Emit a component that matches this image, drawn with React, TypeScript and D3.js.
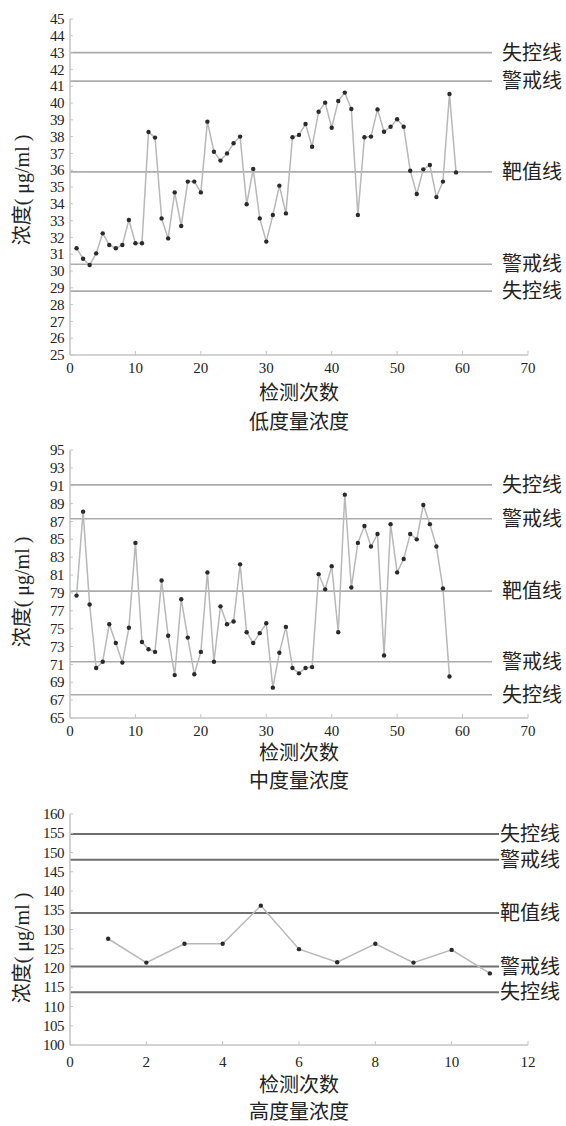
import * as React from "react";
import * as d3 from "d3";

// 低度量浓度
const lowValues = [
  31.35, 30.73, 30.36, 31.05, 32.24, 31.55, 31.35, 31.55, 33.04, 31.65,
  31.65, 38.27, 37.94, 33.13, 31.94, 34.68, 32.68, 35.32, 35.32, 34.68,
  38.89, 37.1, 36.57, 37.0, 37.6, 38.0, 33.97, 36.07, 33.13, 31.75,
  33.33, 35.08, 33.43, 37.96, 38.1, 38.75, 37.4, 39.48, 40.02, 38.53,
  40.12, 40.62, 39.64, 33.33, 37.96, 38.0, 39.62, 38.29, 38.59, 39.03,
  38.59, 35.97, 34.58, 36.05, 36.31, 34.4, 35.32, 40.54, 35.87,
];
const lowLimits = [43.0, 41.3, 35.9, 30.4, 28.8];

// 中度量浓度
const midValues = [
  78.7, 88.1, 77.7, 70.6, 71.3, 75.5, 73.4, 71.2, 75.1, 84.6,
  73.5, 72.7, 72.4, 80.4, 74.2, 69.8, 78.3, 74.0, 69.9, 72.4,
  81.3, 71.3, 77.5, 75.5, 75.8, 82.2, 74.6, 73.4, 74.5, 75.6,
  68.4, 72.3, 75.2, 70.6, 70.0, 70.6, 70.7, 81.1, 79.4, 82.0,
  74.6, 90.0, 79.6, 84.6, 86.5, 84.2, 85.6, 72.0, 86.7, 81.3,
  82.8, 85.6, 85.0, 88.85, 86.7, 84.2, 79.5, 69.65,
];
const midLimits = [91.1, 87.3, 79.2, 71.3, 67.6];

// 高度量浓度
const highValues = [127.6, 121.4, 126.3, 126.3, 136.2, 124.9, 121.5, 126.3, 121.4, 124.7, 118.6];
const highLimits = [154.8, 148.1, 134.3, 120.4, 113.7];

const limitLabels = ["失控线", "警戒线", "靶值线", "警戒线", "失控线"];
const xTitle = "检测次数";
const yTitle = "浓度( μg/ml )";
const panelTitles = ["低度量浓度", "中度量浓度", "高度量浓度"];

const NUM_FONT = "'Liberation Serif', 'Times New Roman', serif";
const CJK_FONT = "'Liberation Serif', 'Noto Sans CJK SC', serif";

interface PanelProps {
  values: number[];
  limits: number[];
  title: string;
  yDomain: [number, number];
  yStep: number;
  xMax: number;
  xStep: number;
  top: number;
  bottom: number;
  lineEnd: number;
  labelX: number;
  limitColor: string;
  limitWidth: number;
  tickLabelDy: number;
  xTitleDy: number;
  subTitleDy: number;
  yTitleY: number;
}

function Panel(p: PanelProps) {
  const left = 70,
    right = 528;
  const x = d3.scaleLinear().domain([0, p.xMax]).range([left, right]);
  const y = d3.scaleLinear().domain(p.yDomain).range([p.bottom, p.top]);
  const yTicks = d3.range(p.yDomain[0], p.yDomain[1] + 0.001, p.yStep);
  const xTicks = d3.range(0, p.xMax + 0.001, p.xStep);
  const line = d3
    .line<number>()
    .x((d, i) => x(i + 1))
    .y(d => y(d));

  return (
    <g>
      {/* control / warning / target lines */}
      {p.limits.map((v, i) => (
        <g key={"l" + i}>
          <line
            x1={left}
            x2={p.lineEnd}
            y1={y(v)}
            y2={y(v)}
            stroke={p.limitColor}
            strokeWidth={p.limitWidth}
          />
          <text x={p.labelX} y={y(v)} dy="0.36em" fontSize={20} fontFamily={CJK_FONT} fill="#222">
            {limitLabels[i]}
          </text>
        </g>
      ))}

      {/* axes */}
      <line x1={left} x2={left} y1={p.top} y2={p.bottom} stroke="#c4c4c4" strokeWidth={1.5} />
      <line x1={left} x2={right} y1={p.bottom} y2={p.bottom} stroke="#c4c4c4" strokeWidth={1.5} />
      {yTicks.map(t => (
        <g key={"y" + t}>
          <line x1={left} x2={left + 3} y1={y(t)} y2={y(t)} stroke="#c4c4c4" />
          <text
            x={64}
            y={y(t)}
            dy="0.34em"
            textAnchor="end"
            fontSize={15}
            fontFamily={NUM_FONT}
            letterSpacing={-0.5}
            fill="#222"
          >
            {t}
          </text>
        </g>
      ))}
      {xTicks.map(t => (
        <g key={"x" + t}>
          <line x1={x(t)} x2={x(t)} y1={p.bottom} y2={p.bottom - 4} stroke="#c4c4c4" />
          <text
            x={x(t)}
            y={p.bottom + p.tickLabelDy}
            dy="0.34em"
            textAnchor="middle"
            fontSize={15}
            fontFamily={NUM_FONT}
            fill="#222"
          >
            {t}
          </text>
        </g>
      ))}

      {/* series */}
      <path d={line(p.values) || ""} fill="none" stroke="#b8b8b8" strokeWidth={1.5} />
      {p.values.map((v, i) => (
        <circle key={"p" + i} cx={x(i + 1)} cy={y(v)} r={2.2} fill="#2a2a2a" />
      ))}

      {/* titles */}
      <text
        x={299}
        y={p.bottom + p.xTitleDy}
        dy="0.36em"
        textAnchor="middle"
        fontSize={20}
        fontFamily={CJK_FONT}
        fill="#222"
      >
        {xTitle}
      </text>
      <text
        x={299}
        y={p.bottom + p.subTitleDy}
        dy="0.36em"
        textAnchor="middle"
        fontSize={20}
        fontFamily={CJK_FONT}
        fill="#222"
      >
        {p.title}
      </text>
      <text
        transform={`translate(22,${p.yTitleY}) rotate(-90)`}
        dy="0.36em"
        textAnchor="middle"
        fontSize={20}
        fontFamily={CJK_FONT}
        fill="#222"
      >
        {yTitle}
      </text>
    </g>
  );
}

export default function App() {
  return (
    <svg
      width={566}
      height={1126}
      style={{ display: "block", position: "absolute", left: 0, top: 0, background: "#fff" }}
    >
      <Panel
        values={lowValues}
        limits={lowLimits}
        title={panelTitles[0]}
        yDomain={[25, 45]}
        yStep={1}
        xMax={70}
        xStep={10}
        top={19}
        bottom={355}
        lineEnd={492}
        labelX={502}
        limitColor="#ababab"
        limitWidth={1.6}
        tickLabelDy={13}
        xTitleDy={38}
        subTitleDy={67}
        yTitleY={190}
      />
      <Panel
        values={midValues}
        limits={midLimits}
        title={panelTitles[1]}
        yDomain={[65, 95]}
        yStep={2}
        xMax={70}
        xStep={10}
        top={450}
        bottom={718}
        lineEnd={492}
        labelX={502}
        limitColor="#ababab"
        limitWidth={1.6}
        tickLabelDy={13}
        xTitleDy={35}
        subTitleDy={63}
        yTitleY={592}
      />
      <Panel
        values={highValues}
        limits={highLimits}
        title={panelTitles[2]}
        yDomain={[100, 160]}
        yStep={5}
        xMax={12}
        xStep={2}
        top={814}
        bottom={1045}
        lineEnd={499}
        labelX={500}
        limitColor="#6e6e6e"
        limitWidth={2}
        tickLabelDy={17}
        xTitleDy={40}
        subTitleDy={67}
        yTitleY={948}
      />
    </svg>
  );
}
